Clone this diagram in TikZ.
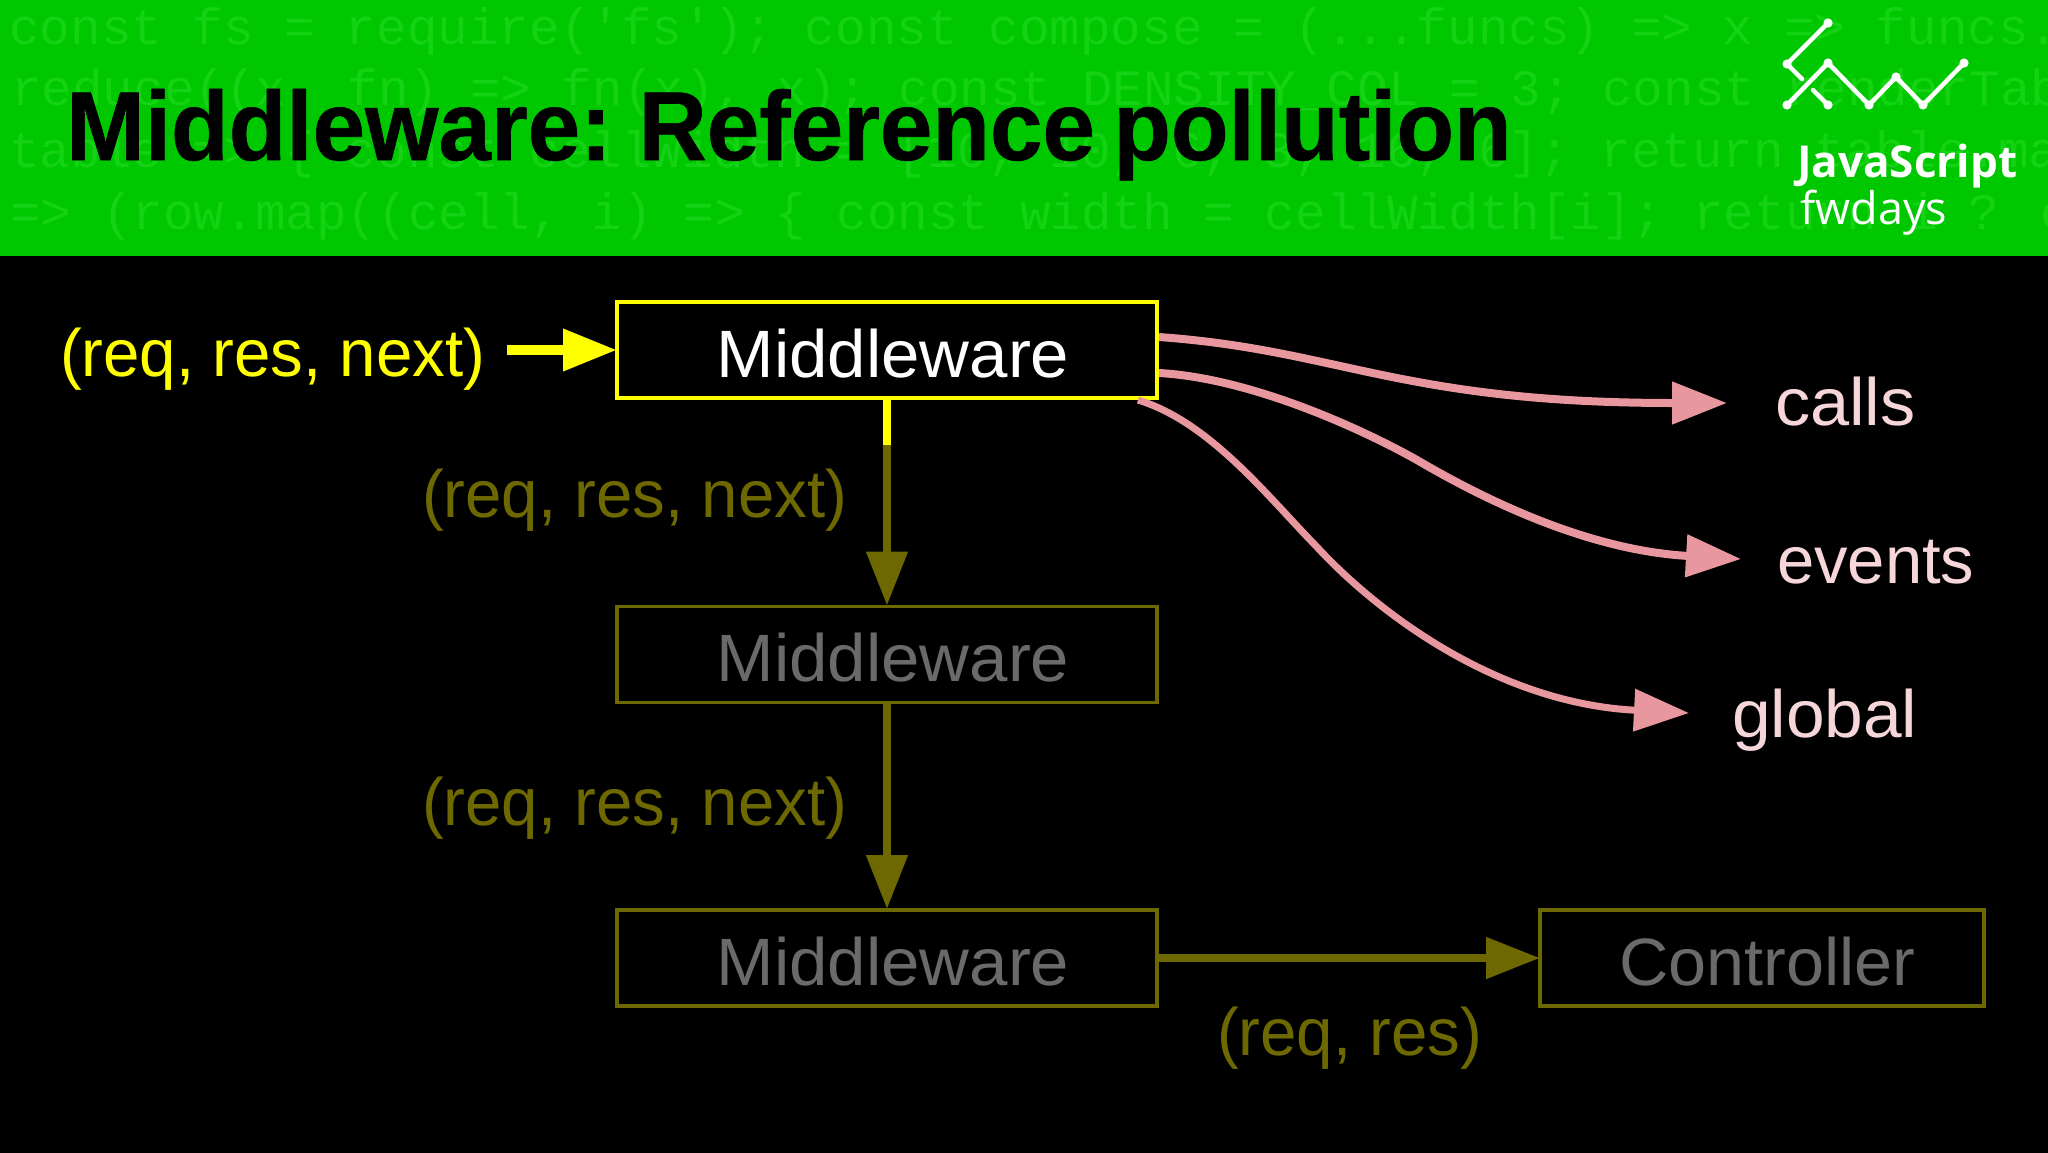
\documentclass[tikz,border=0pt]{standalone}
\usepackage{fontspec}
\usetikzlibrary{arrows.meta}
\setmainfont{Liberation Sans}
\newfontfamily\titlefont[FakeStretch=0.963,FakeBold=0.6,WordSpace=0.7]{Liberation Sans Bold}
\newfontfamily\codefont{Liberation Mono}
\newfontfamily\logofont{Open Sans}
\newfontfamily\argsfont[FakeStretch=0.976]{Liberation Sans}
\newfontfamily\boxfont[FakeStretch=1.03]{Liberation Sans}
\newfontfamily\ctlfont[FakeStretch=1.02]{Liberation Sans}
\newfontfamily\callsfont[FakeStretch=1.05]{Liberation Sans}
\newfontfamily\globalfont[FakeStretch=1.037]{Liberation Sans}
\definecolor{band}{HTML}{00C800}
\definecolor{bandtext}{HTML}{14D214}
\definecolor{sun}{HTML}{FFFF00}
\definecolor{olive}{HTML}{6D6800}
\definecolor{dimgrey}{HTML}{6A6A6A}
\definecolor{rose}{HTML}{E8979E}
\definecolor{pale}{HTML}{F6D6D9}
\tikzset{
  x=1pt,y=-1pt,
  lbl/.style={anchor=base west,inner sep=0pt,outer sep=0pt},
  args/.style={lbl,font=\argsfont\fontsize{67}{67}\selectfont},
  word/.style={lbl,text=pale,font=\fontsize{67}{67}\selectfont},
  codeline/.style={font=\codefont\fontsize{51}{51}\selectfont,text=bandtext,anchor=base west,inner sep=0pt},
  box/.style={draw=olive,line width=3.5pt,minimum width=540pt,minimum height=96pt,inner sep=0pt,outer sep=0pt,text=dimgrey,text height=54pt,text depth=0pt,font=\boxfont\fontsize{67}{67}\selectfont},
  oarrow/.style={draw=olive,line width=8pt,-{Triangle[length=54pt,width=40pt]},shorten >=1pt},
  parrow/.style={draw=rose,line width=8pt,-{Triangle[length=55pt,width=41pt]}},
  logoline/.style={draw=white,line width=4.5pt,line cap=round,line join=round}
}
\begin{document}
\begin{tikzpicture}
\useasboundingbox (0,0) rectangle (2048,1152);
\fill[black] (-2,-2) rectangle (2050,1154);
\fill[band] (-2,-2) rectangle (2050,256);
\begin{scope}
\clip (0,0) rectangle (2048,256);
\node[codeline] (c1) at (9,44) {const fs = require('fs'); const compose = (...funcs) => x => funcs.};
\node[codeline] (c2) at (11,105) {reduce((x, fn) => fn(x), x); const DENSITY\_COL = 3; const renderTab};
\node[codeline] (c3) at (9,167) {table => \{ const cellWidth = [10, 10, 6, 3, 16, 6]; return table.ma};
\node[codeline] (c4) at (10,229) {=> (row.map((cell, i) => \{ const width = cellWidth[i]; return i ? c};
\end{scope}
\node[anchor=base west,inner sep=0pt,font=\titlefont\fontsize{98}{98}\selectfont,text=black] (title) at (66,160) {Middleware: Reference pollution};
% logo
\coordinate (la) at (1828,23);\coordinate (lb) at (1787,64);\coordinate (lc) at (1828,105);
\coordinate (lg1) at (1802,79);\coordinate (lg2) at (1813,90);
\coordinate (ld) at (1787,105);\coordinate (le) at (1828,63);\coordinate (lf) at (1869,105);
\coordinate (lg) at (1896,77);\coordinate (lh) at (1923,105);\coordinate (li) at (1964,63);
\draw[logoline] (la) -- (lb) -- (lg1);
\draw[logoline] (lg2) -- (lc);
\draw[logoline] (ld) -- (le) -- (lf) -- (lg) -- (lh) -- (li);
\foreach \p in {la,lb,lc,ld,le,lf,lg,lh,li}{\fill[white] (\p) circle (4.6pt);}
\node[anchor=base west,inner sep=0pt,font=\logofont\bfseries\fontsize{44}{44}\selectfont,text=white] (l1) at (1797,177) {JavaScript};
\node[anchor=base west,inner sep=0pt,font=\logofont\fontsize{45}{45}\selectfont,text=white] (l2) at (1800,224) {fwdays};
% boxes
\node[box,draw=sun,text=white] (m1) at (887,350) {\hspace*{12pt}Middleware};
\node[box] (m2) at (887,654.5) {\hspace*{12pt}Middleware};
\node[box] (m3) at (887,958) {\hspace*{12pt}Middleware};
\node[box,minimum width=444pt,font=\ctlfont\fontsize{67}{67}\selectfont] (ctl) at (1762,958) {\hspace*{11pt}Controller};
% labels
\node[args,text=sun] (t0) at (60,376) {(req, res, next)};
\node[args,text=olive] (t1) at (422,517) {(req, res, next)};
\node[args,text=olive] (t2) at (422,825) {(req, res, next)};
\node[args,text=olive] (t3) at (1217,1055) {(req, res)};
\node[word,font=\callsfont\fontsize{67}{67}\selectfont] (calls) at (1775,425) {calls};
\node[word] (events) at (1777,583) {events};
\node[word,font=\globalfont\fontsize{67}{67}\selectfont] (global) at (1732,737) {global};
% connectors
\coordinate (in) at (507,350);
\coordinate (split) at (887,445);
\draw[draw=sun,line width=10pt,-{Triangle[length=54pt,width=40pt]}] (in) -- (m1.west);
\draw[oarrow] (m1.south) -- (m2.north);
\draw[draw=sun,line width=8pt] (m1.south) -- (split);
\draw[oarrow] (m2.south) -- (m3.north);
\draw[oarrow,shorten >=0pt] (m3.east) -- (ctl.west);
\coordinate (s1) at (1159,337);\coordinate (s2) at (1159,373);\coordinate (s3) at (1138,400);
\coordinate (e1) at (1727,403);\coordinate (e2) at (1741,559);\coordinate (e3) at (1689,713);
\draw[parrow] (s1) .. controls (1340,350) and (1400,403) .. (e1);
\draw[parrow] (s2) .. controls (1250,378) and (1360,428) .. (1417,460) .. controls (1480,497) and (1585,550) .. (e2);
\draw[parrow,line width=7pt] (s3) .. controls (1210,422) and (1268,497) .. (1317,547) .. controls (1375,610) and (1495,703) .. (e3);
\end{tikzpicture}
\end{document}
